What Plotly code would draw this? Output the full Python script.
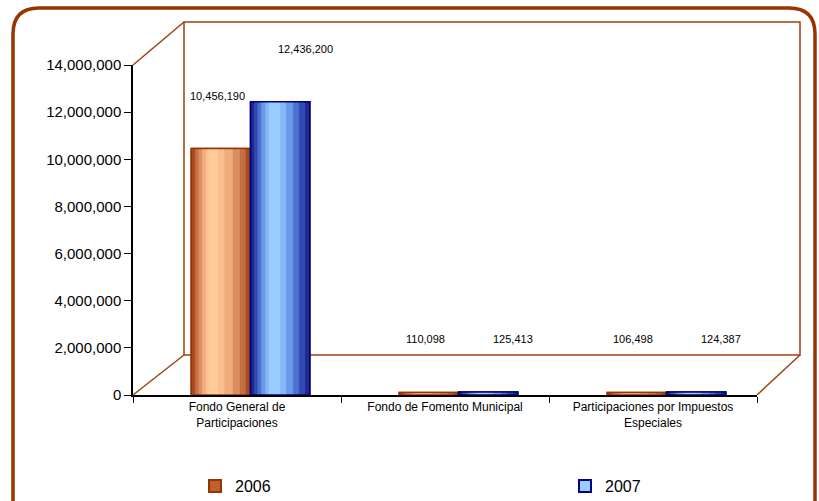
import plotly.graph_objects as go

categories = ["Fondo General de<br>Participaciones", "Fondo de Fomento Municipal",
              "Participaciones por Impuestos<br>Especiales"]
series_names = ["2006", "2007"]
values_2006 = [10456190, 110098, 106498]
values_2007 = [12436200, 125413, 124387]
y_ticks = [0, 2000000, 4000000, 6000000, 8000000, 10000000, 12000000, 14000000]

W, H = 819, 501
L, R, T, B = 133, 62, 65, 106
PW = W - L - R
PH = H - T - B

def px(x):
    return (x - L) / PW

def py(y):
    return (H - B - y) / PH

FONT = "Liberation Sans, Arial, sans-serif"
BROWN = "#A0400E"

fig = go.Figure()

# nested shading bands (start fraction, end fraction, colour) to imitate cylinder shading
bands = {
    "2006": [(0.06, 0.92, "#C66E42"), (0.12, 0.82, "#DC8E60"), (0.18, 0.70, "#EFAB7E"),
             (0.24, 0.56, "#FABE90"), (0.29, 0.45, "#FFCC99")],
    "2007": [(0.06, 0.92, "#2F4AB0"), (0.12, 0.82, "#4A70D0"), (0.18, 0.72, "#6A98E8"),
             (0.25, 0.60, "#85B8F8"), (0.31, 0.50, "#99CCFF")],
}
layers = {
    "2006": dict(vals=values_2006, off=-0.22, w=0.285, line="#993300", legend="legend",
                 base="#A84A22", legcol="#C0602F"),
    "2007": dict(vals=values_2007, off=0.065, w=0.285, line="#000080", legend="legend2",
                 base="#1F2A8C", legcol="#99CCFF"),
}
for name in series_names:
    s = layers[name]
    fig.add_trace(go.Bar(x=categories, y=s["vals"], offset=s["off"], width=s["w"],
                         marker=dict(color=s["base"], line=dict(color=s["line"], width=1.5)),
                         showlegend=False, hoverinfo="skip"))
    for a, b, col in bands[name]:
        fig.add_trace(go.Bar(x=categories, y=s["vals"], offset=s["off"] + s["w"] * a,
                             width=s["w"] * (b - a), marker=dict(color=col, line=dict(width=0)),
                             showlegend=False, hoverinfo="skip"))
    # legend entry (drawn on top with same values, fully transparent in plot)
    fig.add_trace(go.Bar(x=categories, y=s["vals"], name=name, offset=s["off"], width=s["w"],
                         marker=dict(color="rgba(0,0,0,0)", line=dict(color=s["line"], width=1.5)),
                         showlegend=False, legend=s["legend"]))
    fig.add_trace(go.Bar(x=[None], y=[None], name=name,
                         marker=dict(color=s["legcol"], line=dict(color=s["line"], width=2)),
                         showlegend=True, legend=s["legend"]))

annotations = []
for vals, xs in ((values_2006, -20), (values_2007, 68)):
    for c, v in zip(categories, vals):
        annotations.append(dict(x=c, y=v, text=f"{v:,}", showarrow=False, xshift=xs, yshift=45,
                                yanchor="bottom", font=dict(family=FONT, size=11, color="#000")))

shapes = [
    dict(type="rect", xref="paper", yref="paper", x0=px(184), x1=px(800), y0=py(355), y1=py(22),
         line=dict(color=BROWN, width=1.5), layer="below"),
    dict(type="line", xref="paper", yref="paper", x0=0, y0=1, x1=px(184), y1=py(22),
         line=dict(color=BROWN, width=1.5), layer="below"),
    dict(type="line", xref="paper", yref="paper", x0=0, y0=0, x1=px(184), y1=py(355),
         line=dict(color=BROWN, width=1.5), layer="below"),
    dict(type="line", xref="paper", yref="paper", x0=1, y0=0, x1=px(800), y1=py(355),
         line=dict(color=BROWN, width=1.5), layer="below"),
]
x0, x1, y0, y1, r = 13, 815, 8, 520, 26
path = (f"M {px(x0)},{py(y0 + r)} Q {px(x0)},{py(y0)} {px(x0 + r)},{py(y0)} "
        f"L {px(x1 - r)},{py(y0)} Q {px(x1)},{py(y0)} {px(x1)},{py(y0 + r)} "
        f"L {px(x1)},{py(y1)} M {px(x0)},{py(y0 + r)} L {px(x0)},{py(y1)}")
shapes.append(dict(type="path", xref="paper", yref="paper", path=path,
                   line=dict(color="#993300", width=3.5), layer="above"))

legend_common = dict(orientation="h", xanchor="left", yanchor="middle",
                     font=dict(size=16, family=FONT), itemsizing="constant",
                     bgcolor="rgba(0,0,0,0)")

fig.update_layout(
    width=W, height=H, margin=dict(l=L, r=R, t=T, b=B, autoexpand=False),
    paper_bgcolor="white", plot_bgcolor="white",
    barmode="overlay",
    font=dict(family=FONT, color="#000"),
    showlegend=True,
    legend=dict(x=px(195), y=py(486), **legend_common),
    legend2=dict(x=px(565), y=py(486), **legend_common),
    annotations=annotations, shapes=shapes,
    xaxis=dict(type="category", showline=True, linecolor="#000", linewidth=1.5,
               ticks="outside", ticklen=6, tickcolor="#000", tickson="boundaries",
               tickfont=dict(size=12, family=FONT), showgrid=False, range=[-0.5, 2.5],
               automargin=False),
    yaxis=dict(range=[0, 14000000], tickvals=y_ticks, tickformat=",d", showline=True,
               linecolor="#000", linewidth=1.5, ticks="outside", ticklen=7, tickcolor="#000",
               tickfont=dict(size=15, family=FONT), showgrid=False, zeroline=False,
               automargin=False),
)

fig.write_html("out.html", config={"displayModeBar": False},
               post_script="document.body.style.margin='0';document.body.style.overflow='hidden';")
